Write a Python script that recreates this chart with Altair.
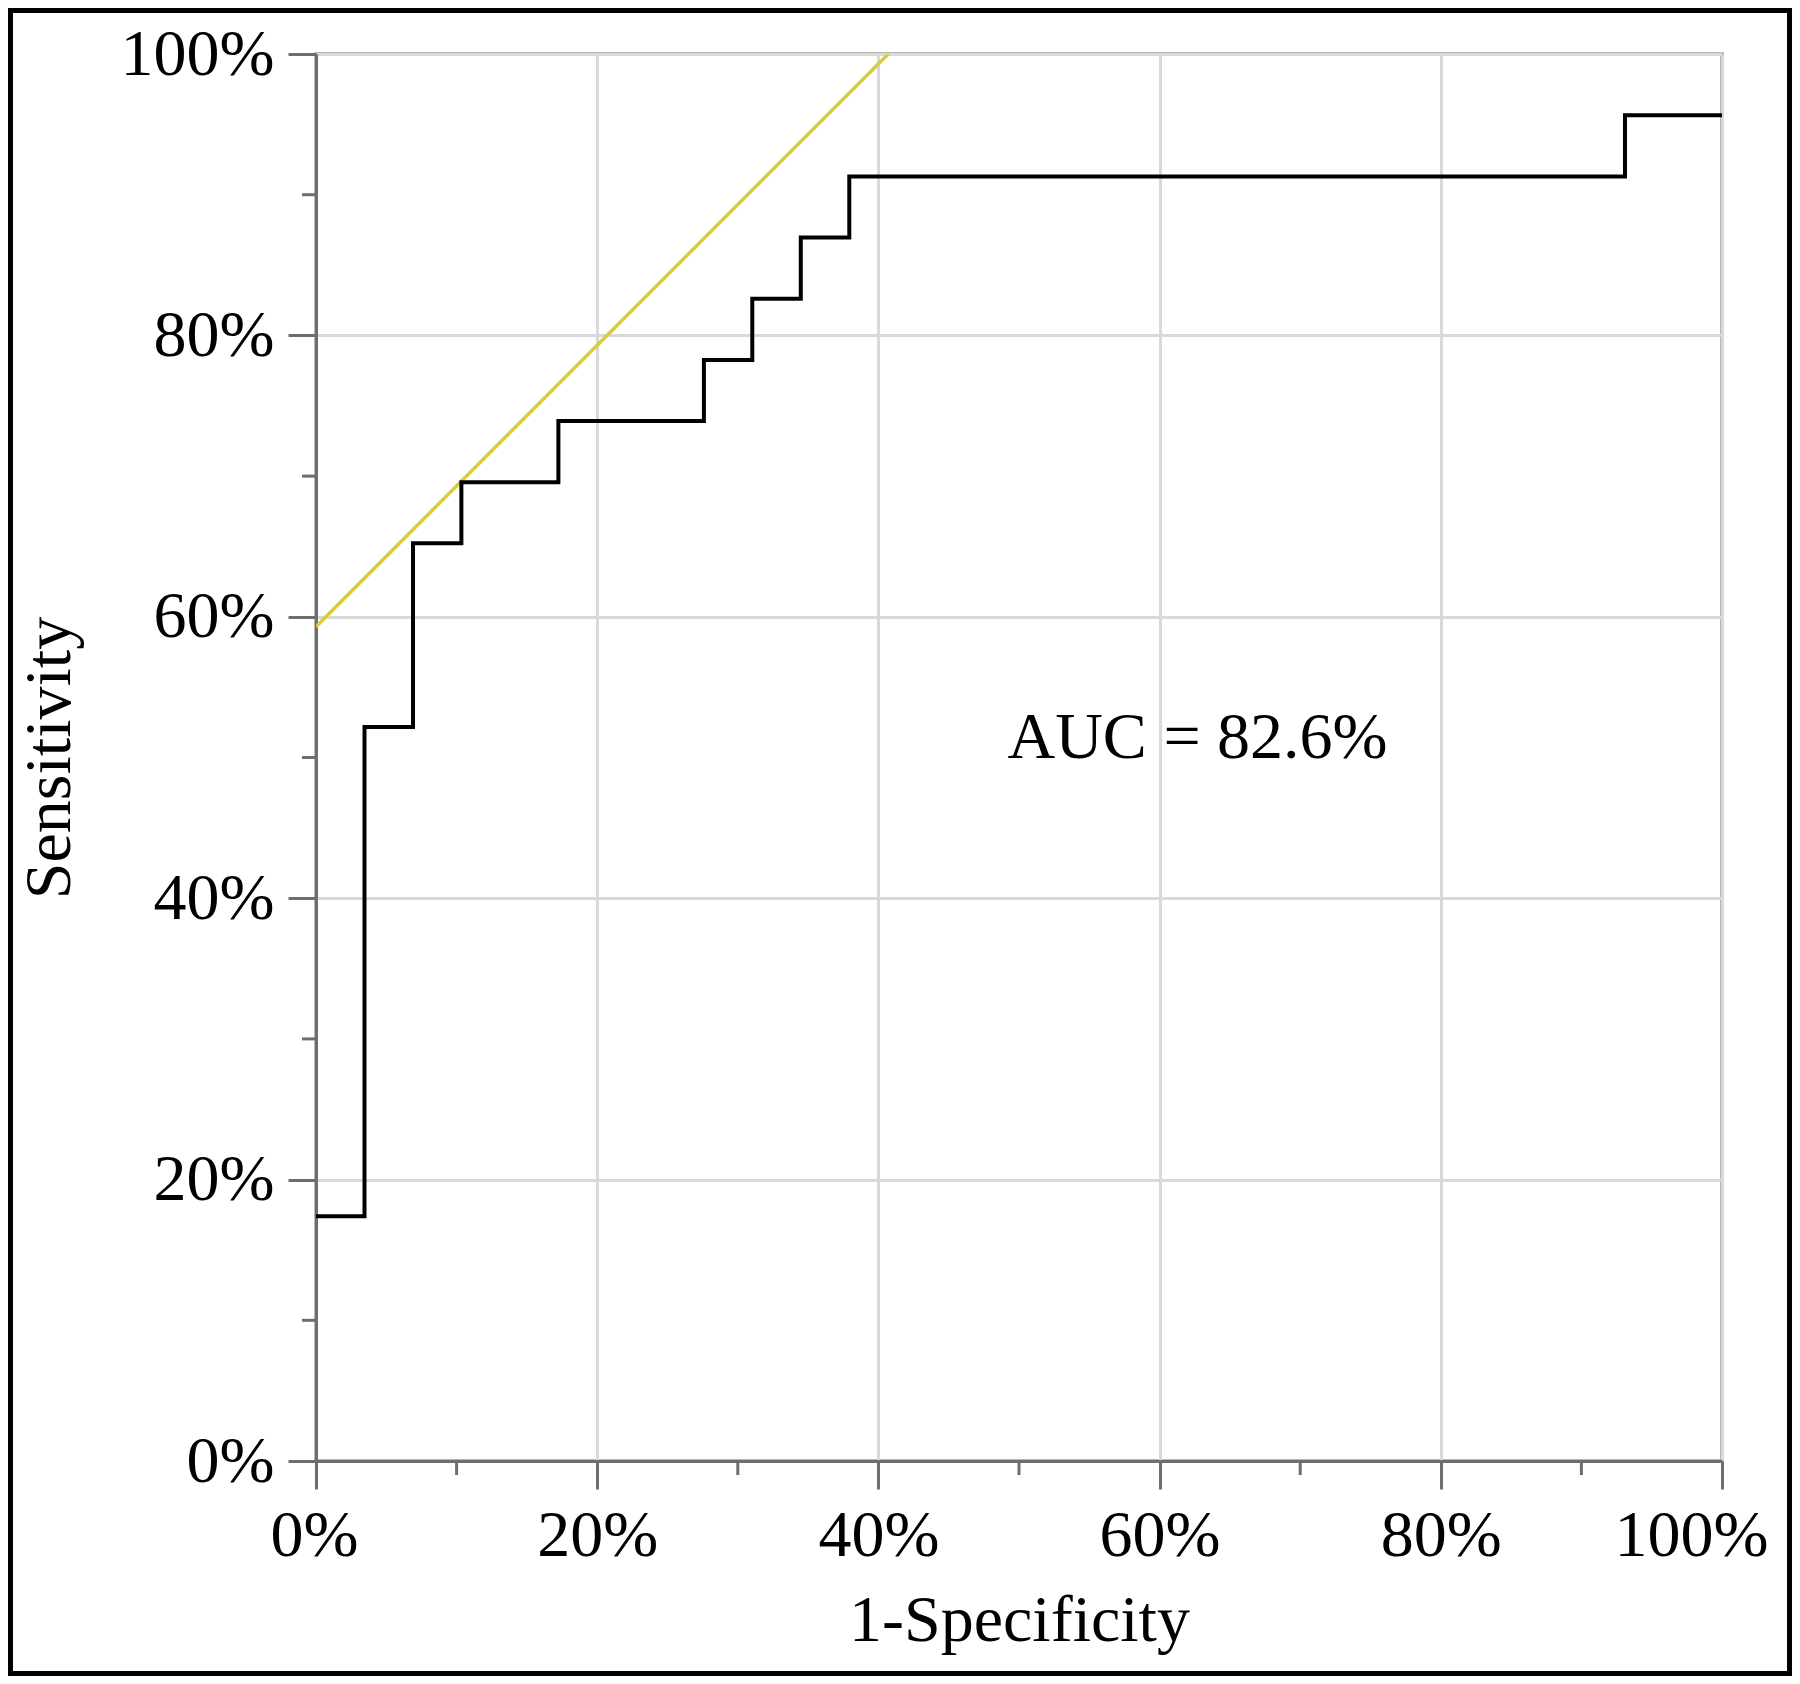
import altair as alt
import pandas as pd

# ROC curve corner points (1-specificity, sensitivity)
fpr = [0.0, 0.0345, 0.0690, 0.1034, 0.1724, 0.2759, 0.3103, 0.3448, 0.3793, 0.9310, 1.0]
tpr = [0.1739, 0.5217, 0.6522, 0.6957, 0.7391, 0.7826, 0.8261, 0.8696, 0.9130, 0.9565, 0.9565]

# Tangent (yellow) line end points
tan_x = [0.0, 0.407]
tan_y = [0.593, 1.0]

major_ticks = [0.0, 0.2, 0.4, 0.6, 0.8, 1.0]
minor_ticks = [0.1, 0.3, 0.5, 0.7, 0.9]

auc_text = ["AUC = 82.6%"]
auc_x = [0.627]
auc_y = [0.50]

W, H = 1406, 1407
PAD = {"left": 308, "top": 46, "right": 70, "bottom": 215}
FONT = "Liberation Serif"
AXIS_GREY = "#6e6e6e"

roc_df = pd.DataFrame({"x": fpr, "y": tpr})
tan_df = pd.DataFrame({"x": tan_x, "y": tan_y})
minor_df = pd.DataFrame({"v": minor_ticks})
auc_df = pd.DataFrame({"label": auc_text, "x": auc_x, "y": auc_y})

xscale = alt.Scale(domain=[0, 1], nice=False, zero=False)
yscale = alt.Scale(domain=[0, 1], nice=False, zero=False)

xaxis = alt.Axis(values=major_ticks, format=".0%", title="1-Specificity",
                 grid=True, titlePadding=20, labelPadding=14,
                 labelFlush=True, labelFlushOffset=46)
yaxis = alt.Axis(values=major_ticks, format=".0%", title="Sensitivity",
                 grid=True, titlePadding=37, labelPadding=14, labelFlush=False)

tangent = alt.Chart(tan_df).mark_line(color="#d8cc3c", strokeWidth=3.5, clip=True).encode(
    x=alt.X("x:Q", scale=xscale, axis=xaxis),
    y=alt.Y("y:Q", scale=yscale, axis=yaxis),
)

roc = alt.Chart(roc_df).mark_line(color="black", strokeWidth=4,
                                  interpolate="step-after").encode(
    x=alt.X("x:Q", scale=xscale),
    y=alt.Y("y:Q", scale=yscale),
)

minor_x = alt.Chart(minor_df).mark_rule(color=AXIS_GREY, strokeWidth=3).encode(
    x=alt.X("v:Q", scale=xscale),
    y=alt.value(H),
    y2=alt.value(H + 14),
)
minor_y = alt.Chart(minor_df).mark_rule(color=AXIS_GREY, strokeWidth=3).encode(
    y=alt.Y("v:Q", scale=yscale),
    x=alt.value(-14),
    x2=alt.value(0),
)

auc = alt.Chart(auc_df).mark_text(font=FONT, fontSize=66, color="black",
                                  align="center", baseline="alphabetic").encode(
    x=alt.X("x:Q", scale=xscale),
    y=alt.Y("y:Q", scale=yscale),
    text="label:N",
)

frame = alt.Chart(auc_df).mark_rect(fill=None, fillOpacity=0, stroke="black",
                                    strokeWidth=5).encode(
    x=alt.value(-PAD["left"] + 2.5),
    x2=alt.value(W + PAD["right"] - 2.5),
    y=alt.value(-PAD["top"] + 2.5),
    y2=alt.value(H + PAD["bottom"] - 2.5),
)

chart = alt.layer(tangent, roc, minor_x, minor_y, auc, frame).properties(
    width=W, height=H,
    autosize=alt.AutoSizeParams(type="none"),
    padding=PAD,
    background="white",
).configure_view(
    stroke=AXIS_GREY, strokeWidth=3,
).configure_axis(
    labelFont=FONT, titleFont=FONT,
    labelFontSize=66, titleFontSize=66,
    labelColor="black", titleColor="black",
    titleFontWeight="normal",
    domainColor=AXIS_GREY, domainWidth=3,
    tickColor=AXIS_GREY, tickWidth=3, tickSize=28,
    gridColor="#d9d9d9", gridWidth=3,
    labelOverlap=False,
)

chart.save("out.html", embed_options={"renderer": "svg", "actions": False})
